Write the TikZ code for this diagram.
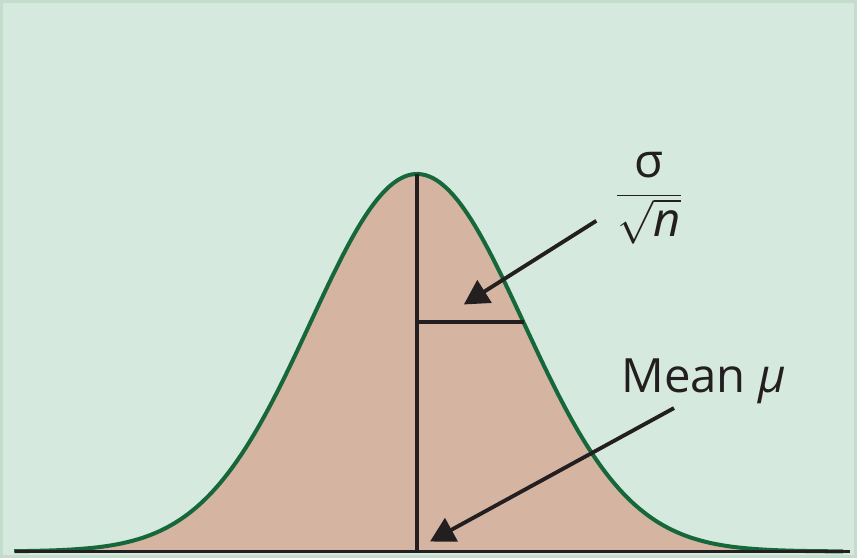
\documentclass[tikz,border=0pt]{standalone}
\usepackage{fontspec}
\setmainfont{Open Sans}
\definecolor{mintback}{RGB}{214, 233, 222}
\definecolor{mintedge}{RGB}{196, 220, 204}
\definecolor{bellfill}{RGB}{214, 180, 162}
\definecolor{bellgreen}{RGB}{22, 104, 58}
\definecolor{inkdark}{RGB}{35, 31, 32}
\usetikzlibrary{arrows.meta, positioning}
\tikzstyle{label} = [inner sep=0pt, text=inkdark, font=\fontsize{27}{30}\selectfont]
\tikzstyle{pointer} = [draw=inkdark, line width=2.2pt, -{Triangle[length=14pt, width=15pt]}]
\tikzstyle{stroke} = [draw=inkdark, line width=2.2pt]
\begin{document}
\begin{tikzpicture}[x=0.02cm, y=0.02cm]
                    % background (1 unit = 1 px of the reference, y upwards)
                    \fill[mintback, draw=mintedge, line width=2pt] (0,0) rectangle (857,557);
                    \useasboundingbox (0,0) rectangle (857,557);
                    % bell curve, mean 417, sigma 107
                    \fill[bellfill] (13,5) -- plot[domain=-3.78:4.0, samples=120, smooth]
                        ({417+107*\x}, {5+379*exp(-\x*\x/2)}) -- (845,5) -- cycle;
                    \draw[bellgreen, line width=2.3pt] plot[domain=-3.78:4.0, samples=120, smooth]
                        ({417+107*\x}, {5+379*exp(-\x*\x/2)});
                    \coordinate (base left) at (13,5);
                    \coordinate (base right) at (852,5);
                    \coordinate (foot) at (417,5);
                    \coordinate (peak) at (417,384);
                    \coordinate (sd mid) at (417,235);
                    \coordinate (sd end) at (524,235);
                    \draw[stroke] (base left) -- (base right);
                    \draw[stroke] (foot) -- (peak);
                    \draw[stroke] (sd mid) -- (sd end);
                    % labels
                    \node[label, font=\fontsize{27}{30}\selectfont] (sdlabel) at (650,360)
                        {$\displaystyle\frac{\mbox{σ}}{\sqrt{\mbox{\itshape n}}}$};
                    \node[label, anchor=base west] (meanlabel) at (622,165) {Mean \textit{μ}};
                    % arrows
                    \coordinate (sd tail) at (597,337);
                    \coordinate (sd tip) at (464,253);
                    \coordinate (mean tail) at (675,149);
                    \coordinate (mean tip) at (430,15);
                    \draw[pointer] (sd tail) -- (sd tip);
                    \draw[pointer] (mean tail) -- (mean tip);
                \end{tikzpicture}
\end{document}
